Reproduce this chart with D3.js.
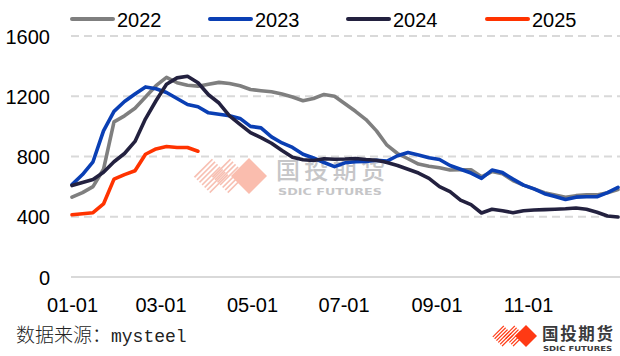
<!DOCTYPE html>
<html><head><meta charset="utf-8">
<script src="https://cdn.jsdelivr.net/npm/d3@7"></script>
<style>
html,body{margin:0;padding:0;background:#fff;}
svg{display:block;}
</style></head>
<body>
<svg id="c" width="620" height="356"></svg>
<script>
// ---- data ----
const seriesNames = ["2022", "2023", "2024", "2025"];
const seriesColors = ["#7f7f7f", "#0a3fb4", "#23213f", "#ff3300"];
// weekly values, week index i -> day 7*i of the year
const v2022 = [530,560,600,715,1030,1070,1120,1195,1270,1325,1290,1273,1267,1280,1292,1285,1270,1245,1237,1230,1215,1195,1170,1185,1212,1200,1150,1100,1045,970,875,820,785,750,735,725,710,712,712,665,700,685,640,610,585,560,545,530,540,545,545,560,580];
const v2023 = [613,680,765,970,1100,1165,1215,1262,1250,1225,1185,1145,1130,1090,1080,1070,1053,1000,990,930,890,860,815,790,760,733,758,765,767,775,770,805,827,810,792,780,740,715,690,655,710,693,650,610,585,553,535,515,530,533,533,560,595];
const v2024 = [607,627,647,695,765,820,900,1050,1170,1280,1322,1333,1290,1210,1155,1070,1013,958,925,888,840,795,778,773,785,782,783,787,780,775,760,740,715,690,655,600,567,510,480,425,450,440,427,440,445,447,450,453,458,450,430,405,398];
const v2025 = [413,420,427,485,650,680,705,815,850,866,860,860,835];
const seriesValues = [v2022, v2023, v2024, v2025];
const xTickDays = [0, 59, 120, 181, 243, 304];
const xTickLabels = ["01-01", "03-01", "05-01", "07-01", "09-01", "11-01"];
const yTicks = [0, 400, 800, 1200, 1600];
const sourceCn = "数据来源：";
const sourceEn = "mysteel";
const brandCn = "国投期货";
const brandEn = "SDIC FUTURES";

// ---- layout ----
const svg = d3.select("#c");
const x = d3.scaleLinear().domain([0, 365]).range([72, 619.5]);
const y = d3.scaleLinear().domain([0, 1600]).range([277, 36]);
const FONT = "'Liberation Sans', Arial, sans-serif";

// gridlines
svg.append("g").selectAll("line").data(yTicks).join("line")
  .attr("x1", 71).attr("x2", 620)
  .attr("y1", d => y(d)).attr("y2", d => y(d))
  .attr("stroke", "#d9d9d9").attr("stroke-width", 2)
  .attr("stroke-dasharray", d => d === 0 ? null : "8,5");

// y axis labels
const yAxis = d3.axisLeft(y).tickValues(yTicks).tickSize(0).tickPadding(0).tickFormat(d3.format("d"));
const gy = svg.append("g").attr("transform", "translate(50,0)").call(yAxis);
gy.select(".domain").remove();
gy.selectAll("text").attr("font-family", FONT).attr("font-size", 20).attr("fill", "#000").attr("dy", "0.36em");

// x axis labels
const xAxis = d3.axisBottom(x).tickValues(xTickDays).tickSize(0).tickPadding(0)
  .tickFormat((d, i) => xTickLabels[i]);
const gx = svg.append("g").attr("transform", "translate(0,298)").call(xAxis);
gx.select(".domain").remove();
gx.selectAll("text").attr("font-family", FONT).attr("font-size", 20).attr("fill", "#000").attr("dy", "0.71em");

// ---- watermark logo ----
function logo(cx, cy, h, stripeColor, diamondColor, sw, gap, opacity) {
  const g = svg.append("g").attr("opacity", opacity);
  const s = h * Math.SQRT2; // square side in rotated frame
  const id = "clip" + Math.round(cx) + "_" + Math.round(cy);
  const offs = [1.1 * h, 2.1 * h];
  offs.forEach((d, k) => {
    const gg = g.append("g").attr("transform", `translate(${cx - d},${cy}) rotate(-45)`);
    const cid = id + "_" + k;
    gg.append("clipPath").attr("id", cid).append("rect")
      .attr("x", -s / 2).attr("y", -s / 2).attr("width", s).attr("height", s);
    const n = Math.floor(s / gap);
    const vs = d3.range(n + 1).map(j => -s / 2 + j * gap + gap / 2);
    gg.append("g").attr("clip-path", `url(#${cid})`).selectAll("line").data(vs).join("line")
      .attr("x1", -s).attr("x2", s).attr("y1", v => v).attr("y2", v => v)
      .attr("stroke", stripeColor).attr("stroke-width", sw);
  });
  g.append("rect").attr("transform", `translate(${cx},${cy}) rotate(-45)`)
    .attr("x", -s / 2).attr("y", -s / 2).attr("width", s).attr("height", s)
    .attr("fill", diamondColor);
  return g;
}
logo(249, 176, 18, "#f5a896", "#f9a590", 1.6, 3.6, 0.72);
svg.append("text").attr("x", 276).attr("y", 179).text(brandCn)
  .attr("font-family", "'Noto Sans CJK SC', sans-serif").attr("font-weight", 500)
  .attr("font-size", 24).attr("fill", "#c6c6c8").attr("textLength", 109);
svg.append("text").attr("x", 278).attr("y", 194.5).text(brandEn)
  .attr("font-family", "'DejaVu Sans', sans-serif").attr("font-weight", "bold")
  .attr("font-size", 9.5).attr("fill", "#c6c6c8").attr("textLength", 104).attr("lengthAdjust", "spacingAndGlyphs");

// ---- series lines ----
const line = d3.line().x((d, i) => x(i * 7)).y(d => y(d));
svg.append("g").selectAll("path").data(seriesValues).join("path")
  .attr("d", d => line(d)).attr("fill", "none")
  .attr("stroke", (d, i) => seriesColors[i]).attr("stroke-width", 3.6)
  .attr("stroke-linejoin", "round").attr("stroke-linecap", "round");

// ---- legend ----
const legX = [72, 210, 348, 487];
const lg = svg.append("g").selectAll("g").data(seriesNames).join("g")
  .attr("transform", (d, i) => `translate(${legX[i]},19)`);
lg.append("line").attr("x1", 0).attr("x2", 41).attr("y1", 0).attr("y2", 0)
  .attr("stroke", (d, i) => seriesColors[i]).attr("stroke-width", 4).attr("stroke-linecap", "round");
lg.append("text").attr("x", 45).attr("y", 7.5).text(d => d)
  .attr("font-family", FONT).attr("font-size", 20).attr("fill", "#000");

// ---- source ----
const src = svg.append("text").attr("x", 16).attr("y", 342);
src.append("tspan").text(sourceCn).attr("font-family", "'Noto Sans CJK SC', sans-serif").attr("font-size", 19).attr("font-weight", 300).attr("fill", "#222");
src.append("tspan").text(sourceEn).attr("font-family", "'Liberation Mono', monospace").attr("font-size", 18).attr("fill", "#222");

// ---- bottom-right logo ----
logo(526, 336, 11, "#ff3a14", "#ff3a14", 1.2, 2.6, 1);
svg.append("text").attr("x", 542).attr("y", 339.5).text(brandCn)
  .attr("font-family", "'Noto Sans CJK SC', sans-serif").attr("font-weight", "bold")
  .attr("font-size", 16.5).attr("fill", "#3a3a3c").attr("textLength", 71);
svg.append("text").attr("x", 543).attr("y", 351).text(brandEn)
  .attr("font-family", "'DejaVu Sans', sans-serif").attr("font-weight", "bold")
  .attr("font-size", 7).attr("fill", "#3a3a3c").attr("textLength", 69).attr("lengthAdjust", "spacingAndGlyphs");
</script>
</body></html>
